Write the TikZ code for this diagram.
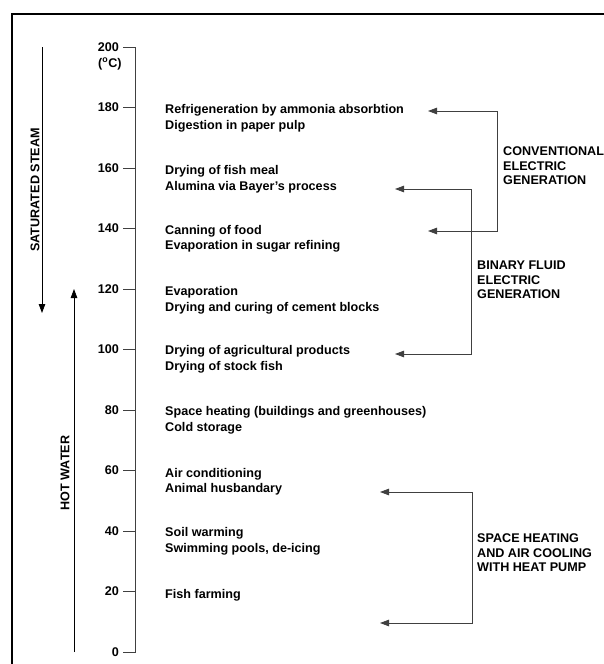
\documentclass[tikz,border=0pt]{standalone}
\usepackage{fontspec}
\setmainfont{Liberation Sans}
\usetikzlibrary{arrows.meta, positioning}
\tikzset{
    tipA/.style={-{Triangle[length=9pt,width=6.5pt]}, line width=0.8pt, black},
    brak/.style={{Triangle[length=9pt,width=6.5pt]}-{Triangle[length=9pt,width=6.5pt]}, line width=0.8pt, black!75},
    use/.style={anchor=west, align=left, inner sep=0pt, font=\bfseries\fontsize{12.6}{15.5}\selectfont},
    grp/.style={anchor=west, align=left, inner sep=0pt, font=\bfseries\fontsize{12.6}{14.5}\selectfont}
}
\begin{document}
\begin{tikzpicture}[x=1pt,y=-1pt]
    \def \xa {135}
    \def \dy {3.025}
    \useasboundingbox (0,0) rectangle (604,664);
    \draw[line width=1.2pt] (12,664) -- (12,14) -- (604,14);
    % temperature scale
    \foreach \t in {0,20,...,200}{
        \coordinate (k\t) at (\xa,652-\t*\dy);
        \coordinate (j\t) at (123,652-\t*\dy);
        \node[anchor=east, inner sep=0pt, font=\bfseries\fontsize{12.6}{15}\selectfont] (l\t) at (119,652-\t*\dy) {\t};
    }
    \draw[line width=0.8pt, black!75] (j200) -- (k200) -- (k0) -- (j0);
    \foreach \t in {20,40,...,180}{
        \draw[line width=0.8pt, black!75] (j\t) -- (k\t);
    }
    \node[anchor=north west, inner sep=0pt, font=\bfseries\fontsize{12.6}{15}\selectfont] (unit) at (98,58) {(\textsuperscript{o}C)};
    % steam and water
    \coordinate (s1) at (42,47);
    \coordinate (s2) at (42,313);
    \coordinate (w1) at (74,652);
    \coordinate (w2) at (74,289);
    \draw[tipA] (s1) -- (s2);
    \draw[tipA] (w1) -- (w2);
    \node[rotate=90, inner sep=0pt, font=\bfseries\fontsize{12.6}{15}\selectfont] (steam) at (35,190) {SATURATED STEAM};
    \node[rotate=90, inner sep=0pt, font=\bfseries\fontsize{12.6}{15}\selectfont] (water) at (65,473) {HOT WATER};
    % uses
    \node[use] (u180) at (165,118.5) {Refrigeneration by ammonia absorbtion\\Digestion in paper pulp};
    \node[use] (u160) at (165,179) {Drying of fish meal\\[1pt]Alumina via Bayer's process};
    \node[use] (u140) at (165,239) {Canning of food\\Evaporation in sugar refining};
    \node[use] (u120) at (165,300.5) {Evaporation\\Drying and curing of cement blocks};
    \node[use] (u100) at (165,359.5) {Drying of agricultural products\\Drying of stock fish};
    \node[use] (u80) at (165,420.5) {Space heating (buildings and greenhouses)\\Cold storage};
    \node[use] (u60) at (165,481.5) {Air conditioning\\Animal husbandary};
    \node[use] (u40) at (165,541.5) {Soil warming\\Swimming pools, de-icing};
    \node[use] (u20) at (165,595) {Fish farming};
    % brackets
    \coordinate (c1) at (428,111);
    \coordinate (c2) at (497,111);
    \coordinate (c3) at (497,231);
    \coordinate (c4) at (428,231);
    \draw[brak] (c1) -- (c2) -- (c3) -- (c4);
    \node[grp] (conv) at (503,166) {CONVENTIONAL\\ELECTRIC\\GENERATION};
    \coordinate (b1) at (395,189);
    \coordinate (b2) at (471,189);
    \coordinate (b3) at (471,354);
    \coordinate (b4) at (395,354);
    \draw[brak] (b1) -- (b2) -- (b3) -- (b4);
    \node[grp] (bin) at (477,280) {BINARY FLUID\\ELECTRIC\\GENERATION};
    \coordinate (h1) at (380,492);
    \coordinate (h2) at (472,492);
    \coordinate (h3) at (472,623);
    \coordinate (h4) at (380,623);
    \draw[brak] (h1) -- (h2) -- (h3) -- (h4);
    \node[grp] (pump) at (477,553) {SPACE HEATING\\AND AIR COOLING\\WITH HEAT PUMP};
\end{tikzpicture}
\end{document}
